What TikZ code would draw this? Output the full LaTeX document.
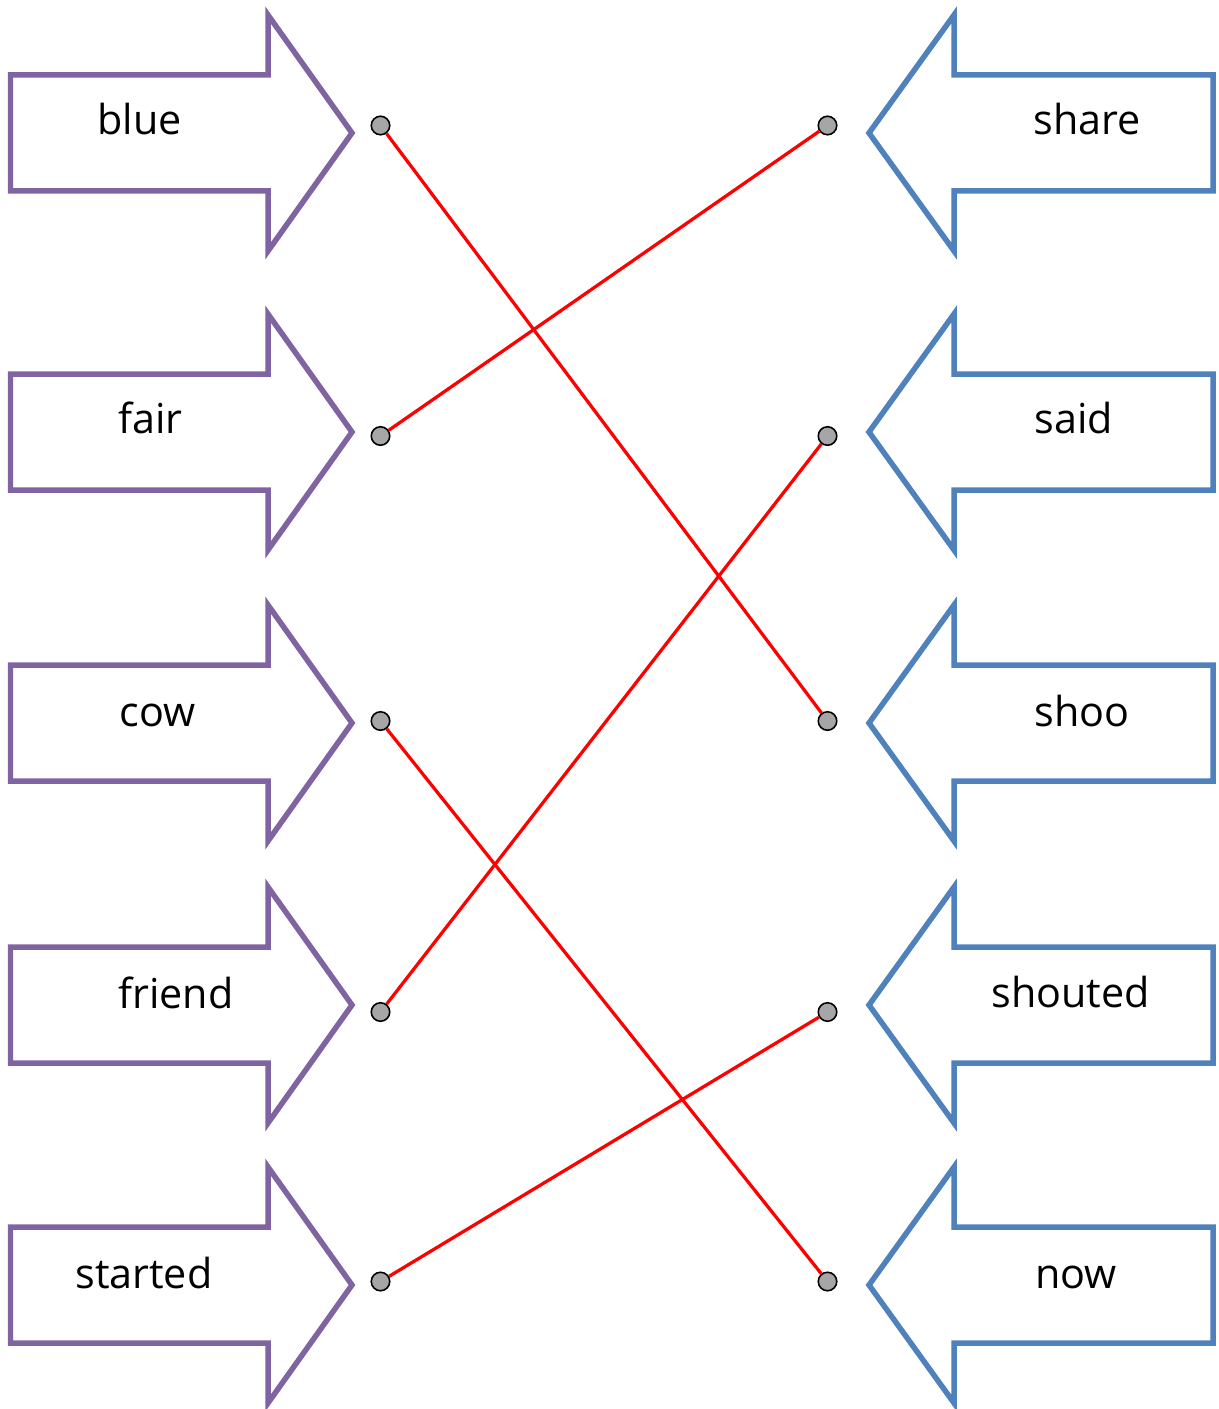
\documentclass[tikz,border=0pt]{standalone}
\usepackage{fontspec}
\setmainfont{Open Sans}
\usepackage{tikz}
\definecolor{leftpurple}{HTML}{8064A2}
\definecolor{rightblue}{HTML}{4F81BD}
\definecolor{dotgray}{HTML}{A6A6A6}

\begin{document}
\begin{tikzpicture}[x=0.02cm, y=-0.02cm]
\tikzset{
leftarr/.style={
  draw=leftpurple,
  line width=0.11cm,
  fill=white
  },
rightarr/.style={
  draw=rightblue,
  line width=0.11cm,
  fill=white
  },
word/.style={
  anchor=base west,
  inner sep=0pt,
  font=\fontsize{23.5}{28}\selectfont
  },
worddot/.style={
  circle,
  draw=black,
  line width=0.9pt,
  fill=dotgray,
  inner sep=0pt,
  minimum size=0.37cm
  },
matchline/.style={
  draw=red,
  line width=0.065cm
  }
}

\useasboundingbox (0,0) rectangle (1218,1409);

% arrows
\foreach \y in {133,432,723,1005,1285} {
    \draw[leftarr] (10.5,\y-58) -- (268,\y-58) -- (268,\y-118) -- (352,\y)
        -- (268,\y+118) -- (268,\y+58) -- (10.5,\y+58) -- cycle;
    \draw[rightarr] (1213,\y-58) -- (954,\y-58) -- (954,\y-118) -- (869,\y)
        -- (954,\y+118) -- (954,\y+58) -- (1213,\y+58) -- cycle;
}

% words
\foreach \x/\y/\w in {97/135/blue, 118/433/fair, 119/726/cow, 118/1008/friend, 75/1288/started,
                      1033/135/share, 1034/433/said, 1034/726/shoo, 991/1007/shouted, 1035/1288/now}
    \node[word] (w-\w) at (\x,\y) {\w};

% dots
\foreach \i/\y in {1/125.5, 2/436, 3/721, 4/1012, 5/1281.5} {
    \node[worddot] (L\i) at (380.5,\y) {};
    \node[worddot] (R\i) at (827.5,\y) {};
}

\begin{scope}[matchline]
    \draw (L1) -- (R3);
    \draw (L2) -- (R1);
    \draw (L3) -- (R5);
    \draw (L4) -- (R2);
    \draw (L5) -- (R4);
\end{scope}

\end{tikzpicture}
\end{document}
